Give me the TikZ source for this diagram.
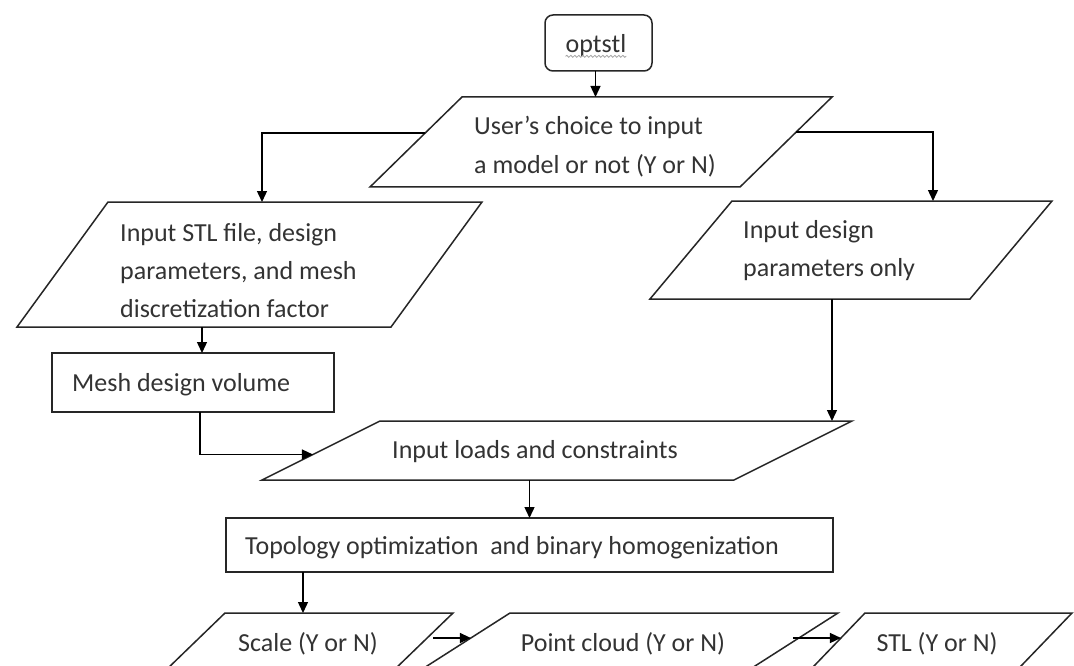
\documentclass[tikz,border=0pt]{standalone}
\usepackage{fontspec}
\setmainfont{Carlito}
\usetikzlibrary{calc,arrows.meta,decorations.pathmorphing}
\newcommand\paradraw[2]{\draw[shapeline] ([xshift=#2]#1.north west) -- (#1.north east) -- ([xshift=-#2]#1.south east) -- (#1.south west) -- cycle;}
\begin{document}
\begin{tikzpicture}[x=1pt,y=-1pt,
  every node/.style={font=\fontsize{26}{38}\selectfont, text=black!80},
  shapeline/.style={draw=black!85, line width=1.5pt},
  para/.style={rectangle, inner sep=0pt, outer sep=0pt},
  boxnode/.style={rectangle, draw=black!85, line width=1.5pt, inner sep=0pt, outer sep=0pt},
  txt/.style={inner sep=0pt, align=left, anchor=west},
  ctxt/.style={inner sep=0pt, align=center},
  arr/.style={draw=black, line width=1.4pt, -{Triangle[length=11pt,width=10pt]}},
]
\useasboundingbox (0,0) rectangle (1074,666);
\clip (0,0) rectangle (1074,666);
\fill[white] (0,0) rectangle (1074,666);

% start
\node[boxnode, rounded corners=8pt, minimum width=107pt, minimum height=56pt] (start) at (598.5,43) {};
\node[ctxt] (starttxt) at (596,46) {optstl};
\draw[decorate, decoration={snake, amplitude=1pt, segment length=4pt}, gray!70, line width=0.8pt]
  ([yshift=1pt]starttxt.south west) -- ([yshift=1pt]starttxt.south east);

% choice
\node[para, minimum width=462pt, minimum height=90pt] (choice) at (601,142) {};
\paradraw{choice}{92pt}
\node[txt, font=\fontsize{26}{39}\selectfont] (choicetxt) at (474,147) {User’s choice to input\\a model or not (Y or N)};

% STL input
\node[para, minimum width=465pt, minimum height=125pt] (stl) at (249.5,264.5) {};
\paradraw{stl}{91pt}
\node[txt] (stltxt) at (120,271) {Input STL file, design\\parameters, and mesh\\discretization factor};

% params only
\node[para, minimum width=402pt, minimum height=98pt] (params) at (851,250) {};
\paradraw{params}{82pt}
\node[txt] (paramstxt) at (743,251) {Input design\\parameters only};

% mesh
\node[boxnode, minimum width=282pt, minimum height=59pt] (mesh) at (193,382.5) {};
\node[txt] (meshtxt) at (72,385) {Mesh design volume};

% loads
\node[para, minimum width=590pt, minimum height=59pt] (loads) at (557,450.5) {};
\paradraw{loads}{118pt}
\node[ctxt] (loadstxt) at (535,452) {Input loads and constraints};

% topology
\node[boxnode, minimum width=607pt, minimum height=54pt] (topo) at (529.5,545) {};
\node[txt] (topotxt) at (245,548) {Topology optimization\ \ and binary homogenization};

% bottom row
\node[para, minimum width=288pt, minimum height=58pt] (scale) at (309,642) {};
\paradraw{scale}{60pt}
\node[ctxt] (scaletxt) at (308,644) {Scale (Y or N)};

\node[para, minimum width=418.8pt, minimum height=58pt] (cloud) at (628.6,642) {};
\paradraw{cloud}{90.8pt}
\node[ctxt] (cloudtxt) at (623,644) {Point cloud (Y or N)};

\node[para, minimum width=262.8pt, minimum height=58pt] (stlout) at (940.6,642) {};
\paradraw{stlout}{55.8pt}
\node[ctxt] (stlouttxt) at (937,644) {STL (Y or N)};

% points on slanted edges
\coordinate (choiceL) at ($(choice.south west)!0.6!([xshift=92pt]choice.north west)$);
\coordinate (choiceR) at ($([xshift=-92pt]choice.south east)!0.611!(choice.north east)$);
\coordinate (loadsL) at ($(loads.south west)!0.432!([xshift=118pt]loads.north west)$);
\coordinate (scaleR) at ($([xshift=-60pt]scale.south east)!0.569!(scale.north east)$);
\coordinate (cloudL) at ($(cloud.south west)!0.569!([xshift=90.8pt]cloud.north west)$);
\coordinate (cloudR) at ($([xshift=-90.8pt]cloud.south east)!0.569!(cloud.north east)$);
\coordinate (stloutL) at ($(stlout.south west)!0.569!([xshift=55.8pt]stlout.north west)$);

% connectors
\draw[arr] ([xshift=-3pt]start.south) -- ([xshift=-3pt]start.south |- choice.north);
\draw[arr] (choiceL) -| ([xshift=12.5pt]stl.north);
\draw[arr] (choiceR) -| ([xshift=82pt]params.north);
\draw[arr] ([xshift=9pt]mesh.north |- stl.south) -- ([xshift=9pt]mesh.north);
\draw[arr] ([xshift=7pt]mesh.south) |- (loadsL);
\draw[arr] ([xshift=-19pt]params.south) -- ([xshift=-19pt]params.south |- loads.north);
\draw[arr] (topo.north |- loads.south) -- (topo.north);
\draw[arr] ([xshift=-6pt]scale.north |- topo.south) -- ([xshift=-6pt]scale.north);
\draw[arr] ([xshift=6pt]scaleR) -- (cloudL);
\draw[arr] ([xshift=-6pt]cloudR) -- (stloutL);
\end{tikzpicture}
\end{document}
